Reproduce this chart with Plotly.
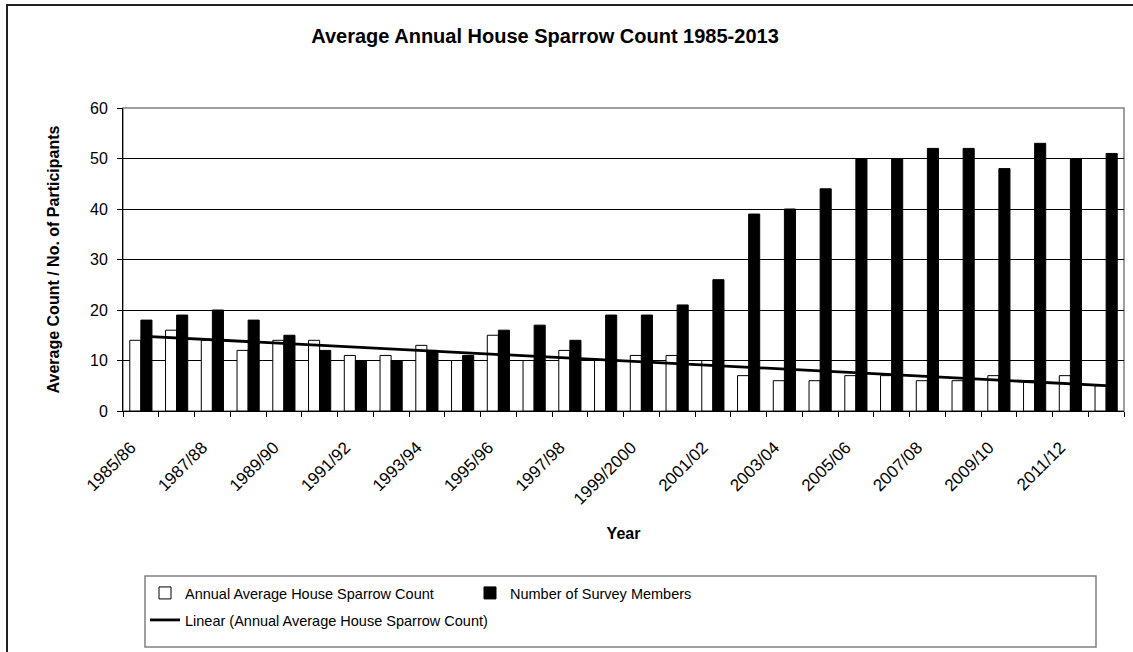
import numpy as np
import plotly.graph_objects as go

years = ["1985/86", "1986/87", "1987/88", "1988/89", "1989/90", "1990/91", "1991/92",
         "1992/93", "1993/94", "1994/95", "1995/96", "1996/97", "1997/98", "1998/99",
         "1999/2000", "2000/01", "2001/02", "2002/03", "2003/04", "2004/05", "2005/06",
         "2006/07", "2007/08", "2008/09", "2009/10", "2010/11", "2011/12", "2012/13"]
sparrow_count = [14, 16, 14, 12, 14, 14, 11, 11, 13, 10, 15, 10, 12, 10,
                 11, 11, 10, 7, 6, 6, 7, 7, 6, 6, 7, 6, 7, 5]
survey_members = [18, 19, 20, 18, 15, 12, 10, 10, 12, 11, 16, 17, 14, 19,
                  19, 21, 26, 39, 40, 44, 50, 50, 52, 52, 48, 53, 50, 51]
y_ticks = [0, 10, 20, 30, 40, 50, 60]

W, H = 1133, 652
L, R, T, B = 123, 9, 108, 241
pw, ph = W - L - R, H - T - B

def px_x(p):
    return (p - L) / pw

def px_y(p):
    return (H - B - p) / ph

idx = np.arange(len(years))
slope, intercept = np.polyfit(idx, sparrow_count, 1)
trend = slope * idx + intercept

FONT = "Liberation Sans, Arial, sans-serif"

fig = go.Figure()
fig.add_trace(go.Bar(
    x=idx, y=sparrow_count, name="Annual Average House Sparrow Count",
    marker=dict(color="white", line=dict(color="black", width=1)),
    legend="legend"))
fig.add_trace(go.Bar(
    x=idx, y=survey_members, name="Number of Survey Members",
    marker=dict(color="black", line=dict(color="black", width=1)),
    legend="legend"))
fig.add_trace(go.Scatter(
    x=idx, y=trend, mode="lines",
    name="Linear (Annual Average House Sparrow Count)",
    line=dict(color="black", width=2.8),
    legend="legend2"))

fig.update_layout(
    width=W, height=H,
    margin=dict(l=L, r=R, t=T, b=B, autoexpand=False),
    paper_bgcolor="white", plot_bgcolor="white",
    font=dict(family=FONT, color="black", size=15),
    barmode="group", bargap=0.38, bargroupgap=0,
    title=dict(text="<b>Average Annual House Sparrow Count 1985-2013</b>",
               x=545 / W, xanchor="center", xref="container",
               y=1 - 36 / H, yanchor="middle", yref="container",
               font=dict(size=20, family=FONT, color="black")),
    xaxis=dict(
        range=[-0.5, len(years) - 0.5],
        tickmode="array", tickvals=list(idx[::2]), ticktext=years[::2],
        tickangle=-45, ticks="", showgrid=False, zeroline=False,
        showline=True, linecolor="black", linewidth=1,
        tickfont=dict(size=17, family=FONT),
        ticklabelstandoff=19, ticklabelshift=-10,
        minor=dict(tickmode="array", tickvals=list(np.arange(-0.5, len(years), 1.0)),
                   ticks="outside", ticklen=5, tickcolor="black", tickwidth=1,
                   showgrid=False),
        title=dict(text="<b>Year</b>", font=dict(size=16, family=FONT), standoff=20),
    ),
    yaxis=dict(
        range=[0, 60], tickmode="array", tickvals=y_ticks,
        ticks="outside", ticklen=5, tickcolor="black", tickwidth=1,
        showgrid=True, gridcolor="black", gridwidth=1,
        zeroline=False, showline=True, linecolor="black", linewidth=1,
        tickfont=dict(size=16, family=FONT),
        ticklabelstandoff=6,
        title=dict(text="<b>Average Count / No. of Participants</b>",
                   font=dict(size=16, family=FONT), standoff=26),
    ),
    legend=dict(orientation="h", x=px_x(145), xanchor="left",
                y=px_y(593), yanchor="middle", entrywidth=280,
                font=dict(size=14.5, family=FONT), bgcolor="rgba(0,0,0,0)",
                borderwidth=0, traceorder="normal"),
    legend2=dict(orientation="h", x=px_x(145), xanchor="left",
                 y=px_y(620), yanchor="middle",
                 font=dict(size=14.5, family=FONT), bgcolor="rgba(0,0,0,0)",
                 borderwidth=0),
    shapes=[
        dict(type="rect", xref="paper", yref="paper", x0=0, x1=1, y0=0, y1=1,
             line=dict(color="#808080", width=1.5), layer="below"),
        dict(type="rect", xref="paper", yref="paper",
             x0=px_x(145), x1=px_x(1096), y0=px_y(647), y1=px_y(576),
             line=dict(color="#808080", width=1.5)),
        dict(type="rect", xref="paper", yref="paper",
             x0=px_x(7), x1=px_x(1140), y0=px_y(665), y1=px_y(5),
             line=dict(color="#222222", width=2)),
    ],
)

fig.write_html(
    "out.html",
    config={"displayModeBar": False},
    post_script="document.body.style.margin='0';"
                "document.documentElement.style.overflow='hidden';"
                "document.body.style.overflow='hidden';",
)
